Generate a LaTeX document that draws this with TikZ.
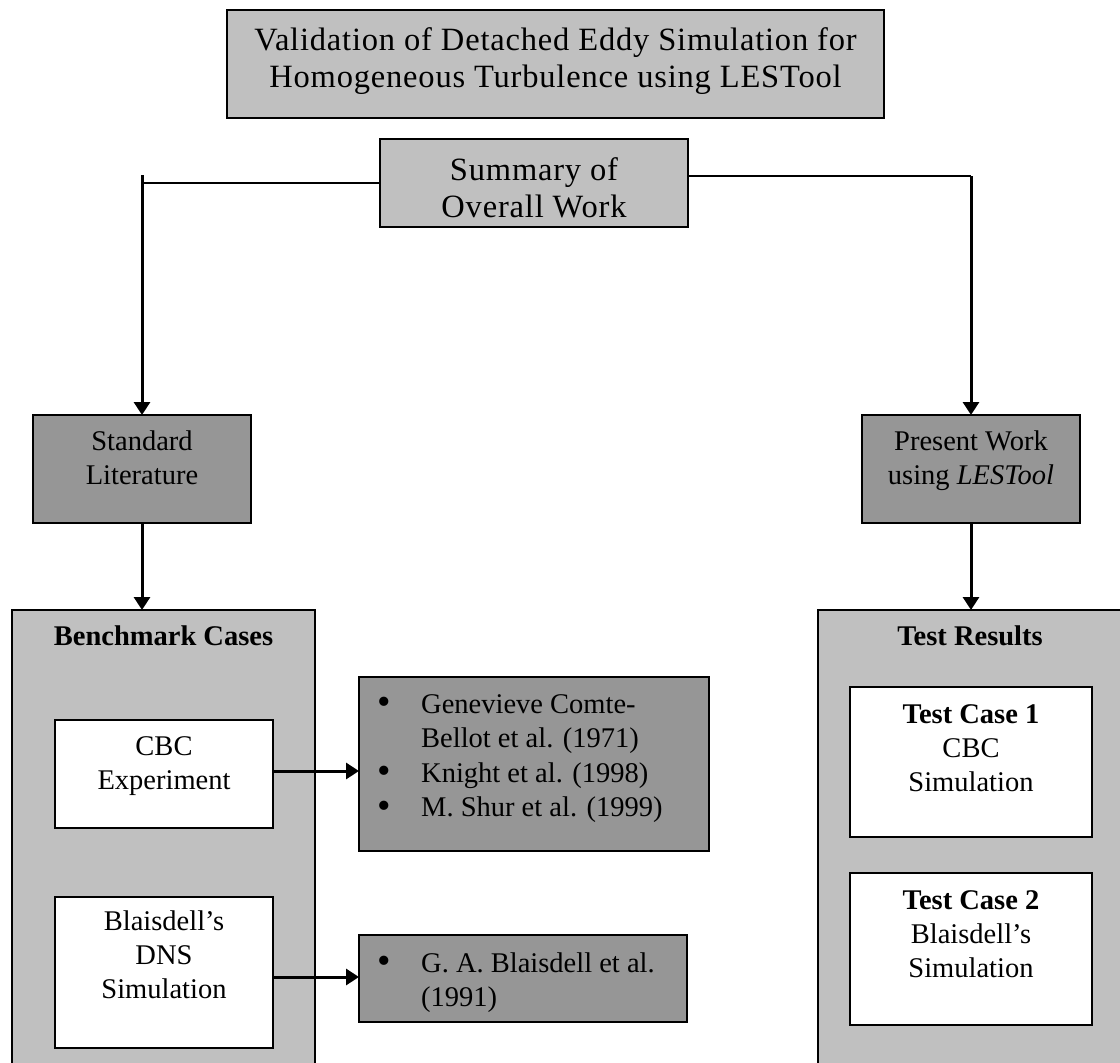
\documentclass[tikz,border=0pt]{standalone}
\usepackage{fontspec}
\setmainfont{Liberation Serif}
\newfontfamily\titlefont{Liberation Serif}[LetterSpace=2.5]
\usetikzlibrary{arrows.meta}
\definecolor{lg}{HTML}{C0C0C0}
\definecolor{dg}{HTML}{969696}
\newcommand{\fl}{\rule{0pt}{20pt}}
\newcommand{\tl}{\rule{0pt}{23pt}}
\newcommand{\bul}{\makebox[44pt][l]{\smash{\raisebox{-1.5pt}{\scalebox{1.35}{•}}}}}
\newcommand{\ind}{\hspace*{44pt}}
\begin{document}
\begin{tikzpicture}[x=1pt,y=-1pt,
  box/.style={draw=black,line width=1.5pt,inner sep=0pt,outer sep=0pt},
  lbox/.style={box,fill=lg},
  dbox/.style={box,fill=dg},
  wbox/.style={box,fill=white},
  body/.style={inner sep=0pt,align=center,font=\fontsize{28.5pt}{34pt}\selectfont},
  bodyl/.style={inner sep=0pt,align=left,font=\fontsize{28.5pt}{34.5pt}\selectfont},
  big/.style={inner sep=0pt,align=center,font=\titlefont\fontsize{32.5pt}{37pt}\selectfont},
  arr/.style={line width=3pt,-{Triangle[length=13pt,width=16pt]}},
  link/.style={line width=1.5pt}]
\useasboundingbox (0,0) rectangle (1120,1063);
\clip (0,0) rectangle (1120,1063);
\fill[white] (0,0) rectangle (1120,1063);

% boxes
\node[lbox, minimum width=657pt, minimum height=108pt] (title) at (555.5,64) {};
\node[lbox, minimum width=308pt, minimum height=88pt] (summary) at (534,183) {};
\node[dbox, minimum width=218pt, minimum height=108pt] (stdlit) at (142,469) {};
\node[dbox, minimum width=218pt, minimum height=108pt] (present) at (971,469) {};
\node[lbox, minimum width=303pt, minimum height=465pt] (bench) at (163.5,842.5) {};
\node[lbox, minimum width=304pt, minimum height=465pt] (testres) at (970,842.5) {};
\node[wbox, minimum width=218pt, minimum height=108pt] (cbc) at (164,774) {};
\node[wbox, minimum width=218pt, minimum height=151pt] (bla) at (164,972.5) {};
\node[dbox, minimum width=350pt, minimum height=174pt] (refs1) at (534,764) {};
\node[dbox, minimum width=328pt, minimum height=87pt] (refs2) at (523,978.5) {};
\node[wbox, minimum width=242pt, minimum height=150pt] (tc1) at (971,762) {};
\node[wbox, minimum width=242pt, minimum height=152pt] (tc2) at (971,949) {};

% texts
\node[big, anchor=north] (titleT) at (555.5,27) {\tl Validation of Detached Eddy Simulation for\\Homogeneous Turbulence using LESTool};
\node[big, anchor=north] (summaryT) at (534,157) {\tl Summary of\\Overall Work};
\node[body, anchor=north] (stdlitT) at (142,430) {\fl Standard\\Literature};
\node[body, anchor=north] (presentT) at (971,430) {\fl Present Work\\using \textit{LESTool}};
\node[body, anchor=north, font=\fontsize{28.5pt}{34pt}\selectfont\bfseries] (benchT) at (163.5,625) {\fl Benchmark Cases};
\node[body, anchor=north, font=\fontsize{28.5pt}{34pt}\selectfont\bfseries] (testresT) at (970,625) {\fl Test Results};
\node[body, anchor=north] (cbcT) at (164,735) {\fl CBC\\Experiment};
\node[body, anchor=north] (blaT) at (164,910) {\fl Blaisdell’s\\DNS\\Simulation};
\node[bodyl, anchor=north west] (refs1T) at (377,693) {\fl\bul Genevieve Comte-\\\ind Bellot et al. (1971)\\\bul Knight et al. (1998)\\\bul M. Shur et al. (1999)};
\node[bodyl, anchor=north west] (refs2T) at (377,952) {\fl\bul G. A. Blaisdell et al.\\\ind (1991)};
\node[body, anchor=north] (tc1T) at (971,703) {\fl\textbf{Test Case 1}\\CBC\\Simulation};
\node[body, anchor=north] (tc2T) at (971,889) {\fl\textbf{Test Case 2}\\Blaisdell’s\\Simulation};

% connectors
\coordinate (lc) at (142,175);
\coordinate (rc) at (971,176);
\draw[link] (summary.west) -- (summary.west -| lc);
\draw[arr] (lc) -- (stdlit.north);
\draw[link] ([yshift=7pt]summary.east) -- (rc);
\draw[arr] (rc) -- (present.north);
\draw[arr] (stdlit.south) -- (stdlit.south |- bench.north);
\draw[arr] (present.south) -- (present.south |- testres.north);
\draw[arr] ([yshift=3pt]cbc.east) -- ([yshift=3pt]cbc.east -| refs1.west);
\draw[arr] ([yshift=-4.5pt]bla.east) -- ([yshift=-4.5pt]bla.east -| refs2.west);
\end{tikzpicture}
\end{document}
